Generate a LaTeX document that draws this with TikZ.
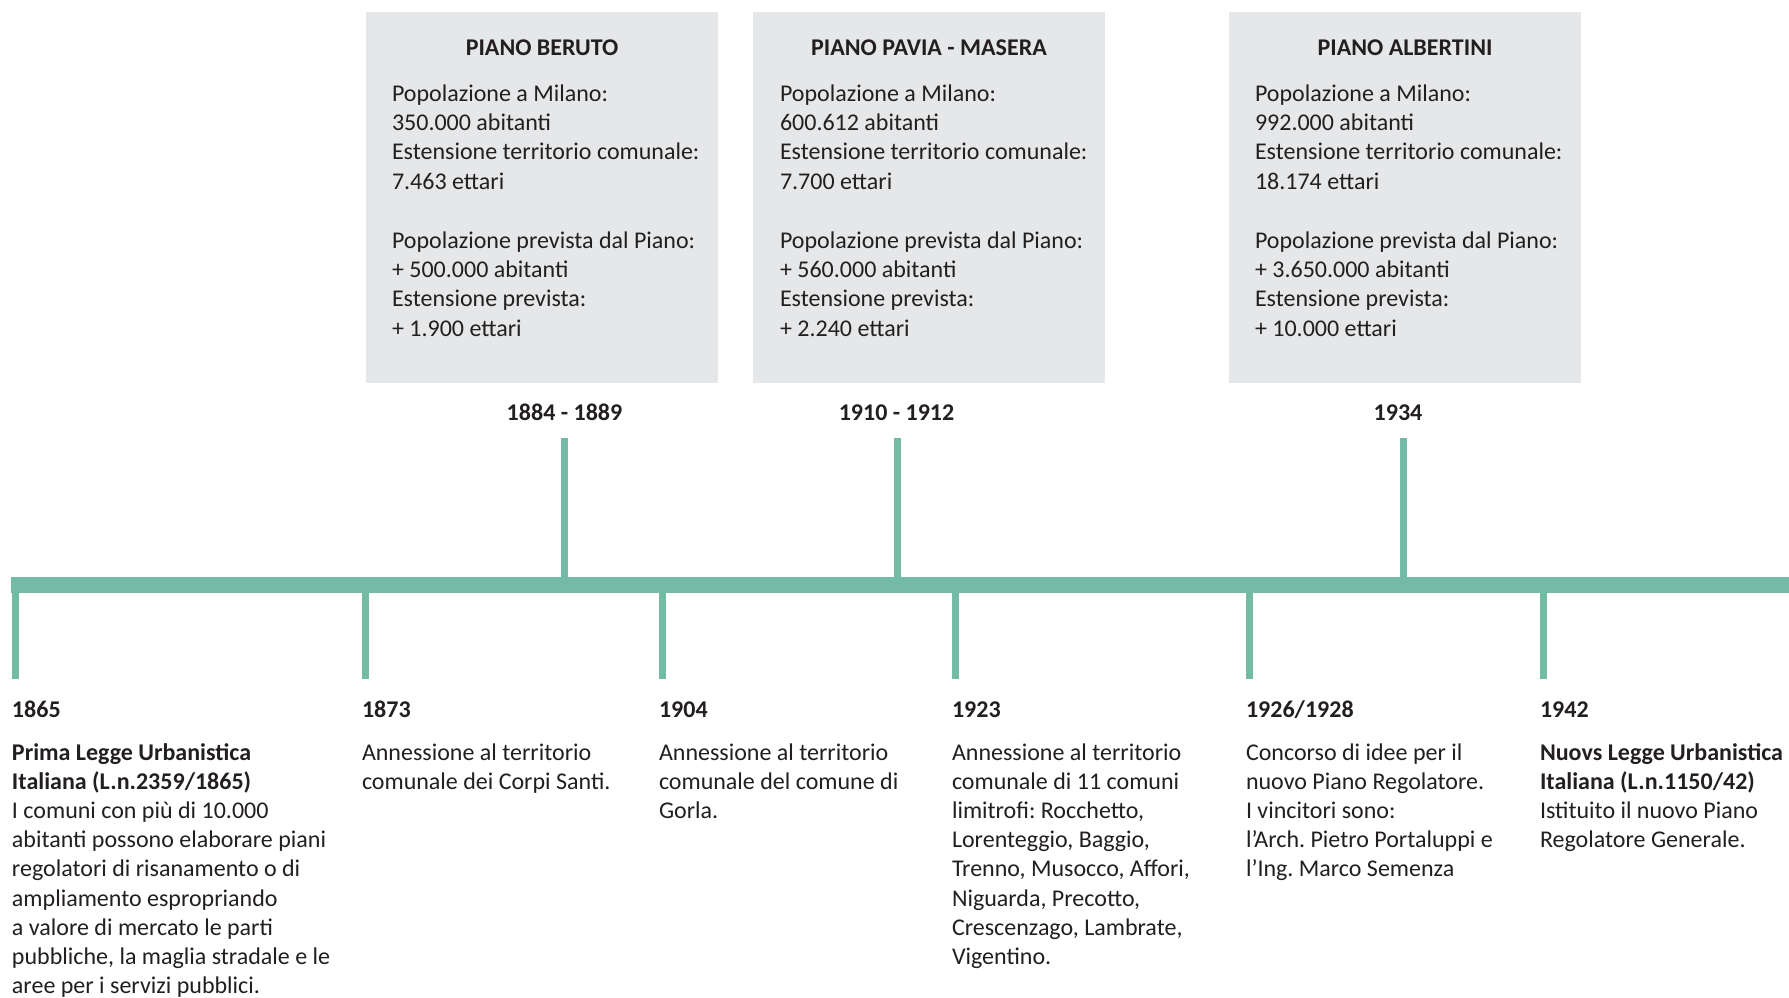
\documentclass[tikz,border=0pt]{standalone}
\usepackage{fontspec}
\setmainfont{Carlito}
\frenchspacing
\definecolor{ink}{HTML}{231F20}
\definecolor{boxgray}{HTML}{E6E7E8}
\definecolor{teal}{HTML}{73BBA4}
\tikzset{
  txt/.style={inner sep=0pt, outer sep=0pt, align=left, anchor=base west, text=ink,
    font=\fontsize{24}{29.2}\selectfont\frenchspacing},
  boxtxt/.style={txt, font=\fontsize{24}{29.4}\selectfont\frenchspacing},
  yearlbl/.style={inner sep=0pt, outer sep=0pt, anchor=base, text=ink,
    font=\fontsize{24}{29.2}\selectfont\bfseries},
  datelbl/.style={inner sep=0pt, outer sep=0pt, anchor=base west, text=ink,
    font=\fontsize{24}{29.2}\selectfont\bfseries},
  plan/.style={fill=boxgray, draw=none, inner sep=0pt, minimum width=352pt, minimum height=371pt, anchor=north west},
  bar/.style={draw=teal, line width=16pt, line cap=butt},
  tick/.style={draw=teal, line width=7pt, line cap=butt}
}
\begin{document}
\begin{tikzpicture}[x=1pt,y=-1pt]
\useasboundingbox[fill=white] (0,0) rectangle (1789,997);

% plan boxes
\node[plan] (b1) at (366,12) {};
\node[plan] (b2) at (753,12) {};
\node[plan] (b3) at (1229,12) {};

\node[yearlbl] (t1) at (542,55) {PIANO BERUTO};
\node[yearlbl] (t2) at (929,55) {PIANO PAVIA - MASERA};
\node[yearlbl] (t3) at (1405,55) {PIANO ALBERTINI};

% (base anchor of a multi-line node = baseline of its last line)
\node[boxtxt] (p1) at (392,336.2) {Popolazione a Milano:\\350.000 abitanti\\Estensione territorio comunale:\\7.463 ettari\\[29.4pt]Popolazione prevista dal Piano:\\+ 500.000 abitanti\\Estensione prevista:\\+ 1.900 ettari};
\node[boxtxt] (p2) at (780,336.2) {Popolazione a Milano:\\600.612 abitanti\\Estensione territorio comunale:\\7.700 ettari\\[29.4pt]Popolazione prevista dal Piano:\\+ 560.000 abitanti\\Estensione prevista:\\+ 2.240 ettari};
\node[boxtxt] (p3) at (1255,336.2) {Popolazione a Milano:\\992.000 abitanti\\Estensione territorio comunale:\\18.174 ettari\\[29.4pt]Popolazione prevista dal Piano:\\+ 3.650.000 abitanti\\Estensione prevista:\\+ 10.000 ettari};

% upper dates
\node[yearlbl] (u1) at (564.5,420) {1884 - 1889};
\node[yearlbl] (u2) at (896.5,420) {1910 - 1912};
\node[yearlbl] (u3) at (1398,420) {1934};

% main bar
\coordinate (barL) at (11,585);
\coordinate (barR) at (1789,585);
\draw[bar] (barL) -- (barR);

% upper ticks
\coordinate (ua) at (564.5,438); \coordinate (ub) at (564.5,577);
\coordinate (va) at (897.5,438); \coordinate (vb) at (897.5,577);
\coordinate (wa) at (1403.5,438); \coordinate (wb) at (1403.5,577);
\draw[tick] (ua) -- (ub);
\draw[tick] (va) -- (vb);
\draw[tick] (wa) -- (wb);

% lower ticks
\foreach \n/\x in {l1/15.5, l2/365.5, l3/662.5, l4/955.5, l5/1249.5, l6/1543.5}{
  \coordinate (\n a) at (\x,593);
  \coordinate (\n b) at (\x,679);
  \draw[tick] (\n a) -- (\n b);
}

% lower dates
\node[datelbl] (d1) at (12,717) {1865};
\node[datelbl] (d2) at (362,717) {1873};
\node[datelbl] (d3) at (659,717) {1904};
\node[datelbl] (d4) at (952,717) {1923};
\node[datelbl] (d5) at (1246,717) {1926/1928};
\node[datelbl] (d6) at (1540,717) {1942};

% lower texts
\node[txt] (e1) at (12,993.6) {\textbf{Prima Legge Urbanistica}\\\textbf{Italiana (L.n.2359/1865)}\\I comuni con più di 10.000\\abitanti possono elaborare piani\\regolatori di risanamento o di\\ampliamento espropriando\\a valore di mercato le parti\\pubbliche, la maglia stradale e le\\aree per i servizi pubblici.};
\node[txt] (e2) at (362,789.2) {Annessione al territorio\\comunale dei Corpi Santi.};
\node[txt] (e3) at (659,818.4) {Annessione al territorio\\comunale del comune di\\Gorla.};
\node[txt] (e4) at (952,964.4) {Annessione al territorio\\comunale di 11 comuni\\limitrofi: Rocchetto,\\Lorenteggio, Baggio,\\Trenno, Musocco, Affori,\\Niguarda, Precotto,\\Crescenzago, Lambrate,\\Vigentino.};
\node[txt] (e5) at (1246,876.8) {Concorso di idee per il\\nuovo Piano Regolatore.\\I vincitori sono:\\l’Arch. Pietro Portaluppi e\\l’Ing. Marco Semenza};
\node[txt] (e6) at (1540,847.6) {\textbf{Nuovs Legge Urbanistica}\\\textbf{Italiana (L.n.1150/42)}\\Istituito il nuovo Piano\\Regolatore Generale.};
\end{tikzpicture}
\end{document}
